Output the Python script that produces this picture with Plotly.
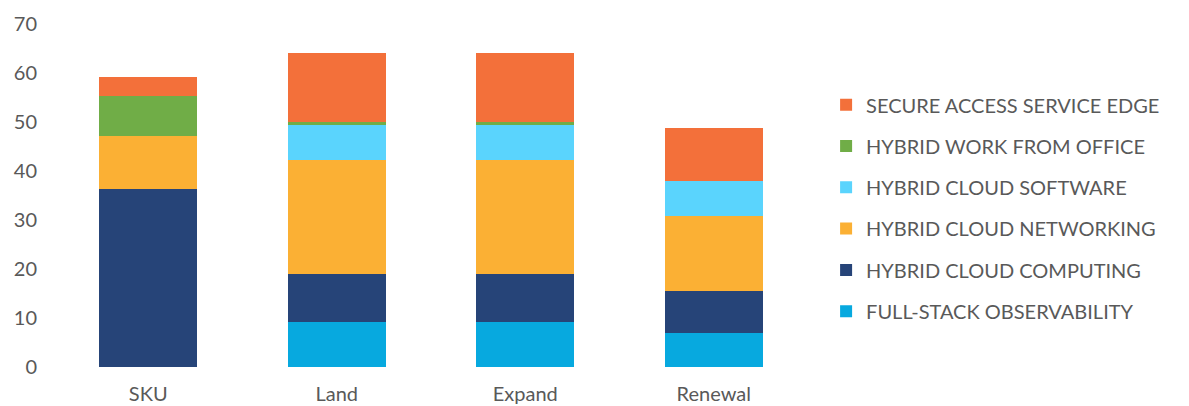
import plotly.graph_objects as go

categories = ["SKU", "Land", "Expand", "Renewal"]

series_names = [
    "FULL-STACK OBSERVABILITY",
    "HYBRID CLOUD COMPUTING",
    "HYBRID CLOUD NETWORKING",
    "HYBRID CLOUD SOFTWARE",
    "HYBRID WORK FROM OFFICE",
    "SECURE ACCESS SERVICE EDGE",
]

full_stack_observability = [0, 9.2, 9.2, 7.0]
hybrid_cloud_computing = [36.3, 9.7, 9.7, 8.6]
hybrid_cloud_networking = [10.8, 23.4, 23.4, 15.3]
hybrid_cloud_software = [0, 7.1, 7.1, 7.0]
hybrid_work_from_office = [8.2, 0.5, 0.5, 0]
secure_access_service_edge = [3.8, 14.1, 14.1, 10.9]

series_values = [
    full_stack_observability,
    hybrid_cloud_computing,
    hybrid_cloud_networking,
    hybrid_cloud_software,
    hybrid_work_from_office,
    secure_access_service_edge,
]

colors = ["#07A9DF", "#264478", "#FBB034", "#5AD4FD", "#70AD47", "#F3703A"]

y_ticks = [0, 10, 20, 30, 40, 50, 60, 70]

TEXT = "#595959"
FONT = "Lato"

fig = go.Figure()
n = len(series_names)
for i, (name, vals, col) in enumerate(zip(series_names, series_values, colors)):
    fig.add_trace(go.Bar(
        x=categories, y=vals, name=name, legendgroup=name,
        legendrank=n - i,
        marker=dict(color=col, line=dict(width=0)),
    ))

fig.update_layout(
    barmode="stack",
    bargap=0.48,
    width=1189, height=406,
    margin=dict(l=54, r=381, t=24, b=38.5, pad=0),
    plot_bgcolor="white", paper_bgcolor="white",
    font=dict(family=FONT, size=20, color=TEXT),
    showlegend=True,
    legend=dict(
        traceorder="grouped",
        tracegroupgap=12.3,
        x=1.024, xanchor="left",
        y=0.463, yanchor="middle",
        font=dict(family=FONT, size=20, color=TEXT),
        bgcolor="rgba(0,0,0,0)",
        borderwidth=0,
    ),
    xaxis=dict(
        showline=False, showgrid=False, zeroline=False,
        ticks="", ticklabelstandoff=13, automargin=False,
        tickfont=dict(family=FONT, size=20, color=TEXT),
    ),
    yaxis=dict(
        range=[0, 70], tickvals=y_ticks,
        showline=False, showgrid=False, zeroline=False,
        ticks="", ticklabelstandoff=16, automargin=False,
        tickfont=dict(family=FONT, size=20, color=TEXT),
    ),
)

fig.write_html("out.html")
